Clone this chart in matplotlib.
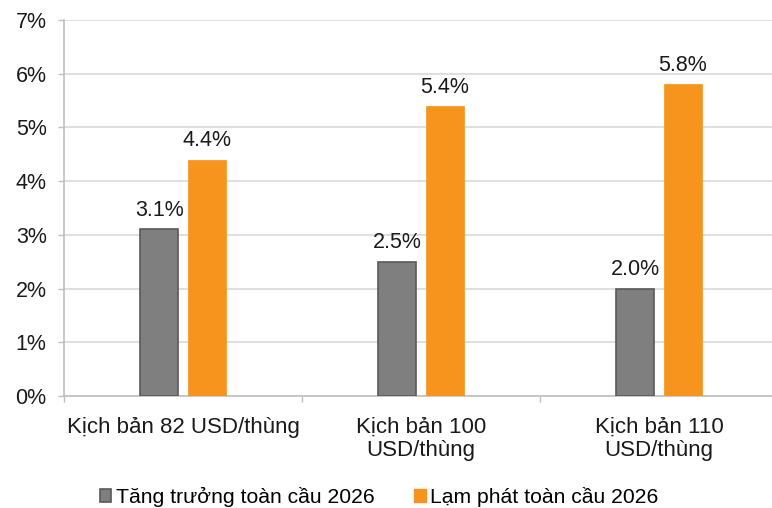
import numpy as np
import matplotlib
matplotlib.use("Agg")
import matplotlib.pyplot as plt
from matplotlib.patches import Patch

plt.rcParams['font.family'] = ['Liberation Sans', 'DejaVu Sans']

# ---------------------------------------- DATA ----------------------------------------
categories = ["Kịch bản 82 USD/thùng", "Kịch bản 100\nUSD/thùng", "Kịch bản 110\nUSD/thùng"]
growth = [3.1, 2.5, 2.0]      # Tăng trưởng toàn cầu 2026 (%)
inflation = [4.4, 5.4, 5.8]   # Lạm phát toàn cầu 2026 (%)
series_names = ["Tăng trưởng toàn cầu 2026", "Lạm phát toàn cầu 2026"]
y_ticks = [0, 1, 2, 3, 4, 5, 6, 7]

# ---------------------------------------- PLOT ----------------------------------------
W, H = 772, 508
fig = plt.figure(figsize=(W / 100, H / 100), dpi=100)
ax = fig.add_axes([64 / W, (H - 396) / H, 714 / W, 376 / H])

gray = "#7f7f7f"
gray_edge = "#595959"
orange = "#f7941d"
txt = "#1a1a1a"
fs = 15.5

x = np.arange(len(categories))
w = 0.16
b1 = ax.bar(x - 0.1, growth, w, color=gray, edgecolor=gray_edge, linewidth=1.2, zorder=3)
b2 = ax.bar(x + 0.1, inflation, w, color=orange, edgecolor=orange, linewidth=0.5, zorder=3)

for bars, vals in [(b1, growth), (b2, inflation)]:
    for r, v in zip(bars, vals):
        ax.annotate(f"{v:.1f}%", (r.get_x() + r.get_width() / 2, v),
                    xytext=(0, 6), textcoords="offset points",
                    ha="center", va="bottom", fontsize=fs, color=txt)

ax.set_xlim(-0.5, len(categories) - 0.5)
ax.set_ylim(0, 7)
ax.set_yticks(y_ticks)
ax.set_yticklabels([f"{t}%" for t in y_ticks], fontsize=fs, color=txt)
ax.yaxis.grid(True, color="#d9d9d9", linewidth=1.2, zorder=0)
ax.tick_params(axis="y", length=4.5, width=1, color="#bfbfbf", pad=8)

# boundaries get ticks, centers get labels
ax.set_xticks(np.arange(len(categories) + 1) - 0.5)
ax.set_xticklabels([])
ax.tick_params(axis="x", which="major", length=4.5, width=1, color="#bfbfbf")
ax.set_xticks(x, minor=True)
ax.set_xticklabels(categories, minor=True, fontsize=16, color=txt, linespacing=1.12)
ax.tick_params(axis="x", which="minor", length=0, pad=15)

for s in ["top", "right"]:
    ax.spines[s].set_visible(False)
ax.spines["left"].set_color("#bfbfbf")
ax.spines["bottom"].set_color("#bfbfbf")
ax.spines["left"].set_linewidth(1.2)
ax.spines["bottom"].set_linewidth(1.2)

handles = [Patch(facecolor=gray, edgecolor=gray_edge, linewidth=1.2),
           Patch(facecolor=orange, edgecolor=orange)]
fig.legend(handles, series_names, loc="center", bbox_to_anchor=(379 / W, 11 / H),
           ncol=2, frameon=False, fontsize=15.2, handlelength=0.55, handleheight=0.55,
           handletextpad=0.2, columnspacing=1.9, borderpad=0, borderaxespad=0)

fig.savefig("out.png", dpi=100)
